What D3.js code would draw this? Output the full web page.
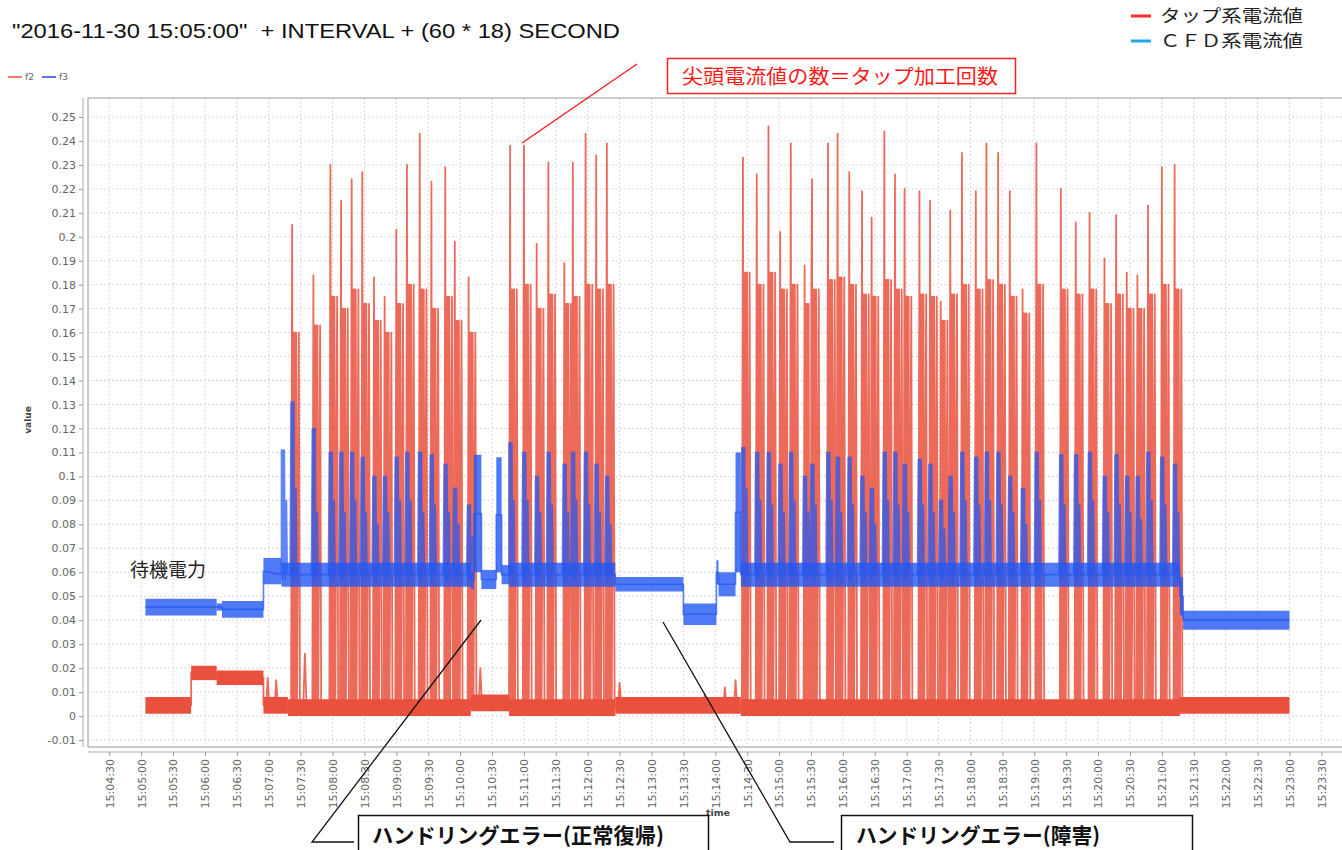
<!DOCTYPE html>
<html>
<head>
<meta charset="utf-8">
<script src="https://cdn.jsdelivr.net/npm/d3@7"></script>
<style>
  body { margin: 0; background: #fff; }
  svg { display: block; }
</style>
</head>
<body>
<div id="chart"></div>
<script>
// ---- values ----
const titleText = '"2016-11-30 15:05:00"  + INTERVAL + (60 * 18) SECOND';
const seriesNames = ["f2", "f3"];
const noteLegend = ["タップ系電流値", "ＣＦＤ系電流値"];
const peakNote = "尖頭電流値の数＝タップ加工回数";
const idleNote = "待機電力";
const errorNotes = ["ハンドリングエラー(正常復帰)", "ハンドリングエラー(障害)"];

// x ticks every 30 s, y ticks every 0.01
const xTickStart = "15:04:30", xTickEnd = "15:23:30";
const yTickMin = -0.01, yTickMax = 0.25;

// f2 (red) steady stretches: [start, end, low, high]
const f2Levels = [
    ["15:05:04", "15:05:47", 0.001, 0.008],
    ["15:05:47", "15:06:11", 0.015, 0.021],
    ["15:06:11", "15:06:55", 0.013, 0.019],
    ["15:06:55", "15:07:18", 0.001, 0.008],
    ["15:07:18", "15:10:10", 0.000, 0.007],
    ["15:10:10", "15:10:46", 0.002, 0.009],
    ["15:10:46", "15:12:26", 0.000, 0.007],
    ["15:12:26", "15:14:24", 0.001, 0.008],
    ["15:14:24", "15:21:17", 0.000, 0.007],
    ["15:21:17", "15:23:00", 0.001, 0.008]
];

// f2 tap spikes: [time, peak, plateau]
const f2Taps = [
    ["15:07:22", 0.205, 0.160], ["15:07:42", 0.184, 0.163], ["15:07:58", 0.230, 0.175],
    ["15:08:08", 0.215, 0.170], ["15:08:18", 0.224, 0.178], ["15:08:28", 0.227, 0.172],
    ["15:08:39", 0.183, 0.165], ["15:08:49", 0.175, 0.160], ["15:09:00", 0.203, 0.172],
    ["15:09:10", 0.230, 0.180], ["15:09:22", 0.243, 0.178], ["15:09:33", 0.223, 0.170],
    ["15:09:46", 0.229, 0.175], ["15:09:55", 0.198, 0.165], ["15:10:08", 0.183, 0.160],

    ["15:10:47", 0.238, 0.178], ["15:11:00", 0.238, 0.180], ["15:11:12", 0.197, 0.170],
    ["15:11:23", 0.231, 0.176], ["15:11:38", 0.189, 0.172], ["15:11:46", 0.231, 0.175],
    ["15:11:58", 0.243, 0.180], ["15:12:08", 0.234, 0.178], ["15:12:18", 0.239, 0.180],

    ["15:14:26", 0.233, 0.185], ["15:14:39", 0.226, 0.180], ["15:14:50", 0.246, 0.185],
    ["15:15:01", 0.202, 0.178], ["15:15:11", 0.239, 0.180], ["15:15:24", 0.188, 0.172],
    ["15:15:31", 0.224, 0.178], ["15:15:46", 0.239, 0.182], ["15:15:55", 0.243, 0.183],
    ["15:16:06", 0.227, 0.180], ["15:16:18", 0.219, 0.176], ["15:16:27", 0.208, 0.175],
    ["15:16:39", 0.244, 0.182], ["15:16:49", 0.226, 0.178], ["15:16:58", 0.220, 0.175],
    ["15:17:12", 0.219, 0.176], ["15:17:22", 0.215, 0.175], ["15:17:32", 0.173, 0.165],
    ["15:17:41", 0.211, 0.176], ["15:17:52", 0.235, 0.180], ["15:18:05", 0.219, 0.178],
    ["15:18:15", 0.239, 0.182], ["15:18:26", 0.235, 0.180], ["15:18:37", 0.219, 0.175],
    ["15:18:49", 0.178, 0.168], ["15:19:02", 0.239, 0.180], ["15:19:25", 0.220, 0.178],
    ["15:19:39", 0.206, 0.176], ["15:19:52", 0.210, 0.178], ["15:20:06", 0.191, 0.172],
    ["15:20:17", 0.209, 0.176], ["15:20:27", 0.185, 0.170], ["15:20:37", 0.184, 0.170],
    ["15:20:47", 0.213, 0.176], ["15:21:00", 0.229, 0.180], ["15:21:12", 0.230, 0.178]
];

// f2 small bumps between taps: [time, value]
const f2Bumps = [
    ["15:06:59", 0.016], ["15:07:07", 0.015], ["15:07:34", 0.026],
    ["15:10:19", 0.020], ["15:12:30", 0.014], ["15:13:50", 0.009],
    ["15:14:09", 0.012], ["15:14:19", 0.015]
];

// f3 (blue) steady stretches: [start, end, low, high]
const f3Levels = [
    ["15:05:04", "15:06:11", 0.042, 0.049],
    ["15:06:11", "15:06:16", 0.044, 0.047],
    ["15:06:16", "15:06:55", 0.041, 0.048],
    ["15:06:55", "15:07:12", 0.055, 0.066],
    ["15:07:12", "15:10:10", 0.054, 0.064],
    ["15:10:10", "15:10:13", 0.053, 0.060],
    ["15:10:13", "15:10:20", 0.060, 0.109],
    ["15:10:20", "15:10:34", 0.053, 0.061],
    ["15:10:34", "15:10:39", 0.060, 0.108],
    ["15:10:39", "15:10:46", 0.055, 0.063],
    ["15:10:46", "15:12:26", 0.054, 0.064],
    ["15:12:26", "15:13:30", 0.052, 0.058],
    ["15:13:30", "15:14:01", 0.038, 0.047],
    ["15:14:01", "15:14:03", 0.055, 0.065],
    ["15:14:03", "15:14:19", 0.050, 0.060],
    ["15:14:19", "15:14:24", 0.060, 0.110],
    ["15:14:24", "15:21:17", 0.054, 0.064],
    ["15:21:17", "15:21:20", 0.042, 0.058],
    ["15:21:20", "15:23:00", 0.036, 0.044]
];

// f3 tap spikes: [time, peak, second hump]
const f3Taps = [
    ["15:07:12", 0.111, 0.090], ["15:07:21", 0.131, 0.095], ["15:07:41", 0.120, 0.085],
    ["15:07:57", 0.110, 0.090], ["15:08:07", 0.110, 0.085], ["15:08:17", 0.110, 0.090],
    ["15:08:27", 0.108, 0.085], ["15:08:38", 0.100, 0.080], ["15:08:48", 0.100, 0.085],
    ["15:08:59", 0.108, 0.090], ["15:09:09", 0.110, 0.090], ["15:09:21", 0.110, 0.085],
    ["15:09:32", 0.109, 0.088], ["15:09:45", 0.105, 0.085], ["15:09:54", 0.095, 0.080],
    ["15:10:07", 0.088, 0.075],

    ["15:10:46", 0.114, 0.090], ["15:10:59", 0.110, 0.090], ["15:11:11", 0.100, 0.085],
    ["15:11:22", 0.110, 0.088], ["15:11:37", 0.105, 0.085], ["15:11:45", 0.110, 0.090],
    ["15:11:57", 0.110, 0.088], ["15:12:07", 0.105, 0.085], ["15:12:17", 0.100, 0.080],

    ["15:14:25", 0.112, 0.095], ["15:14:38", 0.110, 0.090], ["15:14:49", 0.110, 0.088],
    ["15:15:00", 0.105, 0.085], ["15:15:10", 0.110, 0.090], ["15:15:23", 0.100, 0.085],
    ["15:15:30", 0.105, 0.088], ["15:15:45", 0.110, 0.090], ["15:15:54", 0.108, 0.085],
    ["15:16:05", 0.108, 0.088], ["15:16:17", 0.100, 0.085], ["15:16:26", 0.095, 0.080],
    ["15:16:38", 0.110, 0.090], ["15:16:48", 0.110, 0.088], ["15:16:57", 0.105, 0.085],
    ["15:17:11", 0.107, 0.088], ["15:17:21", 0.105, 0.085], ["15:17:31", 0.090, 0.078],
    ["15:17:40", 0.100, 0.085], ["15:17:51", 0.110, 0.090], ["15:18:04", 0.108, 0.088],
    ["15:18:14", 0.110, 0.090], ["15:18:25", 0.110, 0.088], ["15:18:36", 0.100, 0.085],
    ["15:18:48", 0.095, 0.080], ["15:19:01", 0.110, 0.090], ["15:19:24", 0.109, 0.088],
    ["15:19:38", 0.109, 0.088], ["15:19:51", 0.110, 0.090], ["15:20:05", 0.100, 0.085],
    ["15:20:16", 0.109, 0.088], ["15:20:26", 0.100, 0.085], ["15:20:36", 0.100, 0.082],
    ["15:20:46", 0.110, 0.090], ["15:20:59", 0.108, 0.088], ["15:21:11", 0.105, 0.085]
];

const redBase = 0.004, blueBase = 0.059;

// ---- drawing ----
const W = 1342, H = 850;
const plot = {left: 88, top: 98, right: 1349, bottom: 747};

const parseT = d3.timeParse("%H:%M:%S");
const at = (s, off) => new Date(+parseT(s) + off * 1000);

const x = d3.scaleTime()
    .domain([parseT("15:04:10"), parseT("15:23:56")])
    .range([plot.left, plot.right]);
const y = d3.scaleLinear()
    .domain([-0.0129, 0.2579])
    .range([plot.bottom, plot.top]);

const svg = d3.select("#chart").append("svg")
    .attr("width", W)
    .attr("height", H)
    .style("font-family", "'DejaVu Sans', sans-serif");

// title
svg.append("text")
    .attr("x", 12).attr("y", 38)
    .attr("xml:space", "preserve")
    .style("font-family", "'Liberation Sans', Arial, sans-serif")
    .style("font-size", "21px")
    .attr("fill", "#111")
    .attr("textLength", 608).attr("lengthAdjust", "spacingAndGlyphs")
    .text(titleText);

// small series legend (f2 / f3)
const smallLeg = svg.append("g").attr("transform", "translate(8,77)");
[["#f07a6a", 0], ["#5c6ff2", 34]].forEach(([c, dx], i) => {
    smallLeg.append("line").attr("x1", dx).attr("x2", dx + 14)
        .attr("stroke", c).attr("stroke-width", 2);
    smallLeg.append("text").attr("x", dx + 17).attr("y", 3)
        .style("font-size", "9px").attr("fill", "#666").text(seriesNames[i]);
});

// top-right legend
[["#ff2b2b", 16], ["#1ea8ec", 41]].forEach(([c, yy], i) => {
    svg.append("line").attr("x1", 1131).attr("x2", 1151).attr("y1", yy).attr("y2", yy)
        .attr("stroke", c).attr("stroke-width", 3);
    svg.append("text").attr("x", 1160).attr("y", yy + 6)
        .style("font-family", "'Noto Sans CJK JP', sans-serif")
        .style("font-size", "17px").attr("fill", "#222")
        .attr("textLength", 143).attr("lengthAdjust", "spacingAndGlyphs")
        .text(noteLegend[i]);
});

// plot background
svg.append("rect")
    .attr("x", plot.left).attr("y", plot.top)
    .attr("width", plot.right - plot.left).attr("height", plot.bottom - plot.top)
    .attr("fill", "#fff");

svg.append("clipPath").attr("id", "clip")
    .append("rect")
    .attr("x", plot.left).attr("y", plot.top)
    .attr("width", plot.right - plot.left).attr("height", plot.bottom - plot.top);

// grid
const xTicks = d3.timeSecond.every(30).range(parseT(xTickStart), new Date(+parseT(xTickEnd) + 1));
const yTicks = d3.range(Math.round(yTickMin * 100), Math.round(yTickMax * 100) + 1).map(v => v / 100);

const grid = svg.append("g").attr("stroke", "#d8d8d8").attr("stroke-dasharray", "2,2");
grid.selectAll(".gx").data(xTicks).join("line")
    .attr("x1", d => x(d)).attr("x2", d => x(d))
    .attr("y1", plot.top).attr("y2", plot.bottom);
grid.selectAll(".gy").data(yTicks).join("line")
    .attr("x1", plot.left).attr("x2", plot.right)
    .attr("y1", d => y(d)).attr("y2", d => y(d));

// build series paths
function buildRed() {
    let pts = [];
    f2Levels.forEach(([a, b, lo, hi]) => {
        const m = (lo + hi) / 2;
        pts.push([parseT(a), m], [parseT(b), m]);
    });
    // each tap: thin tip, a thick column of samples, then the reverse stroke
    f2Taps.forEach(([t, pk, pl]) => {
        pts.push([at(t, -1), redBase], [at(t, 0), pk], [at(t, 0.6), redBase],
            [at(t, 1.2), pl], [at(t, 1.9), redBase], [at(t, 2.5), pl],
            [at(t, 3.2), redBase], [at(t, 3.8), pl], [at(t, 4.6), redBase],
            [at(t, 6.3), pl], [at(t, 7.3), redBase]);
    });
    f2Bumps.forEach(([t, v]) => {
        pts.push([at(t, -1.5), redBase], [at(t, 0), v], [at(t, 1.5), redBase]);
    });
    return pts.sort((p, q) => p[0] - q[0]);
}

function buildBlue() {
    let pts = [];
    f3Levels.forEach(([a, b, lo, hi]) => {
        const m = (lo + hi) / 2;
        pts.push([parseT(a), m], [parseT(b), m]);
    });
    f3Taps.forEach(([t, pk, sec]) => {
        pts.push([at(t, -0.8), blueBase], [at(t, 0), pk], [at(t, 0.7), blueBase - 0.002],
            [at(t, 1.3), pk], [at(t, 2), blueBase], [at(t, 2.6), pk],
            [at(t, 3.3), blueBase - 0.002], [at(t, 4.6), sec], [at(t, 5.4), blueBase]);
    });
    return pts.sort((p, q) => p[0] - q[0]);
}

const line = d3.line().x(d => x(d[0])).y(d => y(d[1]));
const band = d3.area().x(d => x(d[0])).y0(d => y(d[1])).y1(d => y(d[2]));

const layer = svg.append("g").attr("clip-path", "url(#clip)");

const red = "#e9503d", blue = "#2358f2";

layer.append("g").selectAll("path").data(f2Levels).join("path")
    .attr("fill", red)
    .attr("d", ([a, b, lo, hi]) => band([[parseT(a), lo, hi], [parseT(b), lo, hi]]));
layer.append("path").datum(buildRed())
    .attr("fill", "none").attr("stroke", red).attr("stroke-width", 1.8)
    .attr("stroke-opacity", 0.85).attr("stroke-linejoin", "round")
    .attr("d", line);

layer.append("g").selectAll("path").data(f3Levels).join("path")
    .attr("fill", blue).attr("fill-opacity", 0.8)
    .attr("d", ([a, b, lo, hi]) => band([[parseT(a), lo, hi], [parseT(b), lo, hi]]));
layer.append("path").datum(buildBlue())
    .attr("fill", "none").attr("stroke", blue).attr("stroke-width", 1.7)
    .attr("stroke-opacity", 0.72).attr("stroke-linejoin", "round")
    .attr("d", line);

// plot outline
svg.append("rect")
    .attr("x", plot.left).attr("y", plot.top)
    .attr("width", plot.right - plot.left).attr("height", plot.bottom - plot.top)
    .attr("fill", "none").attr("stroke", "#999");

// y axis
const yAxis = d3.axisLeft(y).tickValues(yTicks).tickSize(4).tickPadding(3)
    .tickFormat(d => d3.format("~g")(d).replace("−", "-"));
svg.append("g").attr("transform", "translate(83,0)").call(yAxis)
    .call(g => g.select(".domain").attr("stroke", "#aaa").attr("d", `M-0,${plot.top}V${plot.bottom}`))
    .call(g => g.selectAll(".tick line").attr("stroke", "#999"))
    .call(g => g.selectAll(".tick text").attr("fill", "#666").style("font-size", "11px")
        .style("font-family", "'DejaVu Sans', sans-serif"));

// x axis
const xAxis = d3.axisBottom(x).tickValues(xTicks).tickSize(4).tickPadding(0)
    .tickFormat(d3.timeFormat("%H:%M:%S"));
svg.append("g").attr("transform", "translate(0,752)").call(xAxis)
    .call(g => g.select(".domain").attr("stroke", "#aaa").attr("d", `M${plot.left},0H${plot.right}`))
    .call(g => g.selectAll(".tick line").attr("stroke", "#999"))
    .call(g => g.selectAll(".tick text")
        .attr("fill", "#666").style("font-size", "11px")
        .style("font-family", "'DejaVu Sans', sans-serif")
        .attr("text-anchor", "end").attr("dy", "0.35em")
        .attr("transform", "translate(0,7) rotate(-90)").attr("y", 0).attr("x", 0));

// axis titles
svg.append("text").attr("transform", "translate(31,420) rotate(-90)")
    .attr("text-anchor", "middle").style("font-size", "9px").style("font-weight", "bold")
    .attr("fill", "#444").text("value");
svg.append("text").attr("x", 718).attr("y", 816)
    .attr("text-anchor", "middle").style("font-size", "9.5px").style("font-weight", "bold")
    .attr("fill", "#444").text("time");

// annotations
const jp = "'Noto Sans CJK JP', sans-serif";
svg.append("text").attr("x", 130).attr("y", 577)
    .style("font-family", jp).style("font-size", "19px").attr("fill", "#222")
    .text(idleNote);

svg.append("line").attr("x1", 637).attr("y1", 64).attr("x2", 522).attr("y2", 143)
    .attr("stroke", "#ff2020").attr("stroke-width", 1.5);
svg.append("rect").attr("x", 667.5).attr("y", 58.5).attr("width", 348).attr("height", 35)
    .attr("fill", "#fff").attr("stroke", "#ff2020").attr("stroke-width", 1.5);
svg.append("text").attr("x", 682).attr("y", 84)
    .style("font-family", jp).style("font-size", "20px").attr("fill", "#ff1a1a")
    .attr("textLength", 316).attr("lengthAdjust", "spacingAndGlyphs")
    .text(peakNote);

const errBoxes = [
    {from: [481, 620], to: [312, 842], hx: 354, box: [358, 708], textX: 372, textW: 292},
    {from: [663, 622], to: [790, 842], hx: 834, box: [841, 1192], textX: 856, textW: 244}
];
errBoxes.forEach((b, i) => {
    svg.append("path")
        .attr("d", `M${b.from[0]},${b.from[1]}L${b.to[0]},${b.to[1]}H${b.hx}`)
        .attr("fill", "none").attr("stroke", "#111").attr("stroke-width", 1.3);
    svg.append("rect").attr("x", b.box[0] + 0.5).attr("y", 815.5)
        .attr("width", b.box[1] - b.box[0]).attr("height", 60)
        .attr("fill", "#fff").attr("stroke", "#111").attr("stroke-width", 1.5);
    svg.append("text").attr("x", b.textX).attr("y", 843)
        .style("font-family", jp).style("font-size", "21px").style("font-weight", "bold")
        .attr("fill", "#111")
        .attr("textLength", b.textW).attr("lengthAdjust", "spacingAndGlyphs")
        .text(errorNotes[i]);
});
</script>
</body>
</html>
